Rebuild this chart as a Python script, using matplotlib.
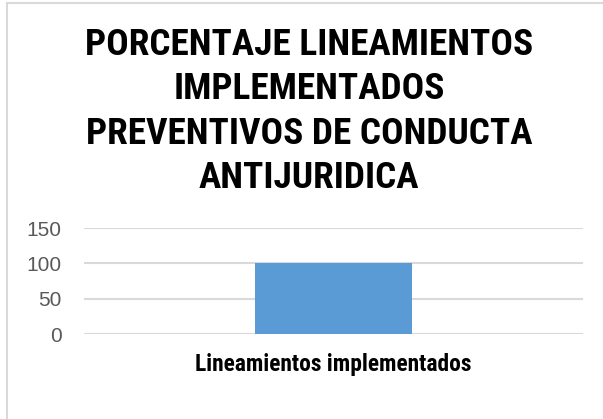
import matplotlib
matplotlib.use("Agg")
import matplotlib.pyplot as plt
from matplotlib.patches import Rectangle
from matplotlib import font_manager

categories = ["Lineamientos implementados"]
values = [100]
yticks = [0, 50, 100, 150]
title = "PORCENTAJE LINEAMIENTOS\nIMPLEMENTADOS\nPREVENTIVOS DE CONDUCTA\nANTIJURIDICA"

names = {f.name for f in font_manager.fontManager.ttflist}
narrow = "DejaVu Sans"
for cand in ["Liberation Sans Narrow", "Arial Narrow", "Roboto Condensed", "Archivo Narrow", "PT Sans Narrow"]:
    if cand in names:
        narrow = cand
        break

W, H = 603, 419
fig = plt.figure(figsize=(W / 100, H / 100), dpi=100)
fig.patch.set_facecolor("white")

# chart border (only left/top visible)
fig.add_artist(Rectangle((7 / W, -0.05), 1.2, 1 - 3 / H + 0.05, transform=fig.transFigure,
                         fill=False, edgecolor="#d9d9d9", linewidth=1.5))

ax = fig.add_axes([84 / W, 1 - 334 / H, (583 - 84) / W, (334 - 228) / H])
x = list(range(len(categories)))
ax.bar(x, values, width=0.315, color="#5b9bd5", zorder=3)
ax.set_xlim(-0.5, len(categories) - 0.5)
ax.set_ylim(0, 150)
ax.set_yticks(yticks)
ax.set_yticklabels([str(t) for t in yticks], fontsize=15, color="#595959", family="Liberation Sans")
ax.set_xticks(x)
ax.set_xticklabels(categories, fontsize=16.9, fontweight="bold", family=narrow, color="black")
ax.tick_params(axis="both", length=0)
ax.tick_params(axis="y", pad=16)
ax.tick_params(axis="x", pad=14)
for s in ax.spines.values():
    s.set_visible(False)
ax.grid(axis="y", color="#d9d9d9", linewidth=1.5, zorder=0)
ax.set_axisbelow(True)

fig.text(309 / W, 1 - 27 / H, title, ha="center", va="top", fontsize=26.8,
         fontweight="bold", family=narrow, linespacing=1.3, color="black")

fig.savefig("out.png", dpi=100, facecolor="white")
